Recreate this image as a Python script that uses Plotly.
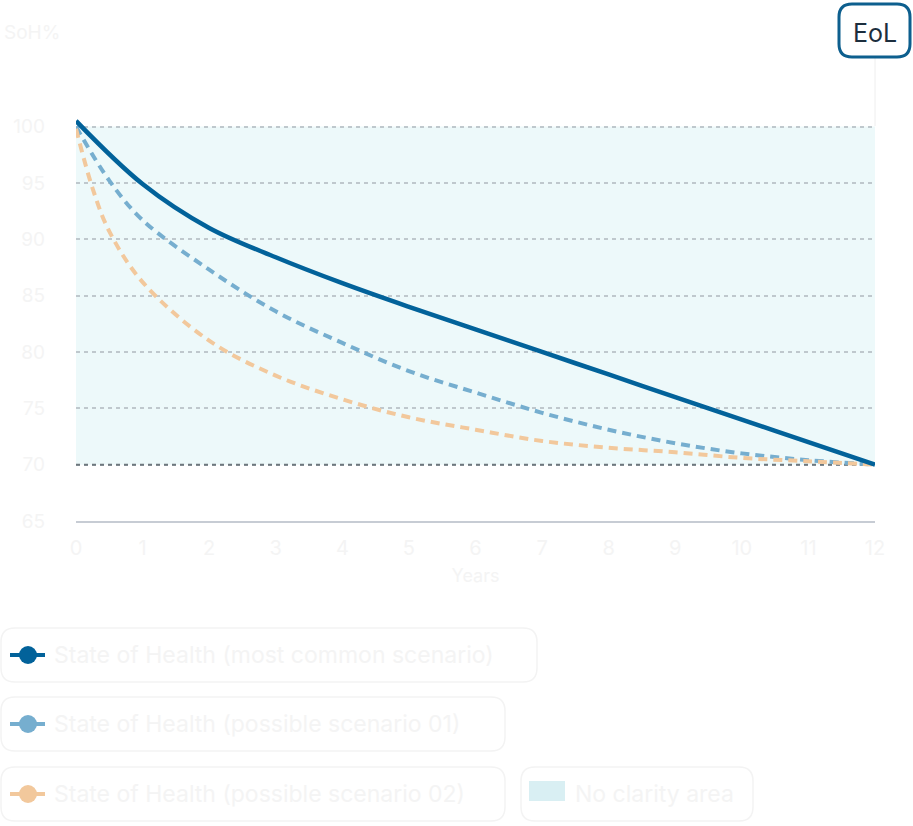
import plotly.graph_objects as go

# ---- data ----
YEARS_MAIN = [0, 1, 2, 3, 4, 5, 6, 7, 8, 9, 10, 11, 12]
SOH_MOST_COMMON = [100.5, 94.9, 91.0, 88.4, 86.1, 84.0, 82.0, 80.0, 78.0, 76.0, 74.0, 72.0, 70.0]
YEARS_01 = [0, 0.5, 1, 2, 3, 4, 5, 6, 7, 8, 9, 10, 11, 12]
SOH_SCENARIO_01 = [100.0, 95.2, 91.7, 87.3, 83.6, 80.8, 78.3, 76.4, 74.6, 73.1, 71.9, 71.0, 70.4, 70.0]
YEARS_02 = [0, 0.25, 0.5, 1, 2, 3, 4, 5, 6, 7, 8, 9, 10, 11, 12]
SOH_SCENARIO_02 = [99.8, 94.5, 90.7, 86.2, 81.0, 77.9, 75.8, 74.2, 73.1, 72.1, 71.5, 71.1, 70.6, 70.3, 70.0]

SERIES_NAMES = [
    "State of Health (most common scenario)",
    "State of Health (possible scenario 01)",
    "State of Health (possible scenario 02)",
]
AREA_NAME = "No clarity area"
EOL_LABEL = "EoL"
EOL_SOH = 70
BOL_SOH = 100
X_TICKS = list(range(0, 13))
Y_TICKS = list(range(65, 101, 5))

# ---- styling ----
W, H = 913, 826
L, R, T, B = 76, 38, 104, 305
PW, PH = W - L - R, H - T - B
FONT = "Inter, Noto Sans, sans-serif"
FAINT_TEXT = "#f4f4f4"
COLORS = ["#02629a", "#76aecf", "#f2c89c"]
DASHES = ["solid", "9px,6px", "9px,6px"]
WIDTHS = [4.5, 4, 4]
AREA_FILL = "#edf9fa"
AREA_SWATCH = "#d9eff3"


def X(px):
    return (px - L) / PW


def Y(py):
    return (H - B - py) / PH


def rounded_box(x0, y0, x1, y1, r):
    pts = [
        f"M {X(x0 + r)},{Y(y0)}", f"L {X(x1 - r)},{Y(y0)}",
        f"Q {X(x1)},{Y(y0)} {X(x1)},{Y(y0 + r)}", f"L {X(x1)},{Y(y1 - r)}",
        f"Q {X(x1)},{Y(y1)} {X(x1 - r)},{Y(y1)}", f"L {X(x0 + r)},{Y(y1)}",
        f"Q {X(x0)},{Y(y1)} {X(x0)},{Y(y1 - r)}", f"L {X(x0)},{Y(y0 + r)}",
        f"Q {X(x0)},{Y(y0)} {X(x0 + r)},{Y(y0)}", "Z",
    ]
    return " ".join(pts)


fig = go.Figure()
series = [(YEARS_01, SOH_SCENARIO_01, 1), (YEARS_02, SOH_SCENARIO_02, 2), (YEARS_MAIN, SOH_MOST_COMMON, 0)]
for xs, ys, i in series:  # solid line last so it sits on top
    fig.add_trace(
        go.Scatter(
            x=xs, y=ys, name=SERIES_NAMES[i], mode="lines",
            line=dict(color=COLORS[i], width=WIDTHS[i], dash=DASHES[i], shape="spline", smoothing=1.0),
            showlegend=False,
        )
    )

shapes = [
    # no clarity area between end-of-life and full health
    dict(type="rect", xref="x", yref="y", x0=X_TICKS[0], x1=X_TICKS[-1], y0=EOL_SOH, y1=BOL_SOH,
         fillcolor=AREA_FILL, line=dict(width=0), layer="below"),
    # end-of-life threshold
    dict(type="line", xref="x", yref="y", x0=X_TICKS[0], x1=X_TICKS[-1], y0=EOL_SOH, y1=EOL_SOH,
         line=dict(color="#6e777d", width=2, dash="4px,4px"), layer="between"),
    # EoL badge + faint connector
    dict(type="line", xref="paper", yref="paper", x0=X(875), x1=X(875), y0=Y(57), y1=Y(126),
         line=dict(color="#eeeeee", width=1)),
    dict(type="path", xref="paper", yref="paper", path=rounded_box(839, 4, 910, 57, 13),
         fillcolor="white", line=dict(color="#0d5f8e", width=3)),
]
annotations = [
    dict(text="SoH%", xref="paper", yref="paper", x=X(2), y=Y(33), xanchor="left", yanchor="middle",
         showarrow=False, font=dict(family=FONT, size=19, color=FAINT_TEXT)),
    dict(text=EOL_LABEL, xref="paper", yref="paper", x=X(874.5), y=Y(33), xanchor="center", yanchor="middle",
         showarrow=False, font=dict(family=FONT, size=25, color="#1c2e3e")),
]

# custom legend: rounded boxes with line+dot symbols
legend_rows = [(628, 537), (697, 505), (767, 505)]
for (top, right), name, color in zip(legend_rows, SERIES_NAMES, COLORS):
    cy = top + 27
    shapes.append(dict(type="path", xref="paper", yref="paper", path=rounded_box(1, top, right, top + 54, 14),
                       fillcolor="white", line=dict(color="#f3f3f3", width=1.5)))
    shapes.append(dict(type="line", xref="paper", yref="paper", x0=X(10), x1=X(45), y0=Y(cy), y1=Y(cy),
                       line=dict(color=color, width=4)))
    shapes.append(dict(type="circle", xref="paper", yref="paper", x0=X(19), x1=X(37), y0=Y(cy - 9), y1=Y(cy + 9),
                       fillcolor=color, line=dict(width=0)))
    annotations.append(dict(text=name, xref="paper", yref="paper", x=X(52), y=Y(cy), xanchor="left",
                            yanchor="middle", showarrow=False, font=dict(family=FONT, size=23, color=FAINT_TEXT)))

shapes.append(dict(type="path", xref="paper", yref="paper", path=rounded_box(521, 767, 753, 821, 14),
                   fillcolor="white", line=dict(color="#f3f3f3", width=1.5)))
shapes.append(dict(type="rect", xref="paper", yref="paper", x0=X(529), x1=X(565), y0=Y(801), y1=Y(781),
                   fillcolor=AREA_SWATCH, line=dict(width=0)))
annotations.append(dict(text=AREA_NAME, xref="paper", yref="paper", x=X(573), y=Y(794), xanchor="left",
                        yanchor="middle", showarrow=False, font=dict(family=FONT, size=23, color=FAINT_TEXT)))

fig.update_layout(
    width=W, height=H,
    margin=dict(l=L, r=R, t=T, b=B, autoexpand=False),
    paper_bgcolor="white", plot_bgcolor="white",
    font=dict(family=FONT, color=FAINT_TEXT),
    shapes=shapes, annotations=annotations,
    xaxis=dict(
        range=[X_TICKS[0], X_TICKS[-1]], tickvals=X_TICKS, showgrid=False, zeroline=False,
        showline=True, linecolor="#c7ccd4", linewidth=2, ticks="",
        tickfont=dict(size=20, color=FAINT_TEXT), ticklabelstandoff=8,
        title=dict(text="Years", font=dict(size=18, color=FAINT_TEXT), standoff=10),
        automargin=False,
    ),
    yaxis=dict(
        range=[65, 102], tickvals=Y_TICKS, showgrid=True, gridcolor="#bfc8cd", gridwidth=1.5,
        griddash="4px,4px", zeroline=False, showline=False, ticks="",
        tickfont=dict(size=19, color=FAINT_TEXT), ticklabelstandoff=30, automargin=False,
    ),
)

# the page's default body margin would push the figure 8px in; drop it
fig.write_html(
    "out.html",
    config={"displayModeBar": False},
    post_script="document.body.style.margin = '0';",
)
